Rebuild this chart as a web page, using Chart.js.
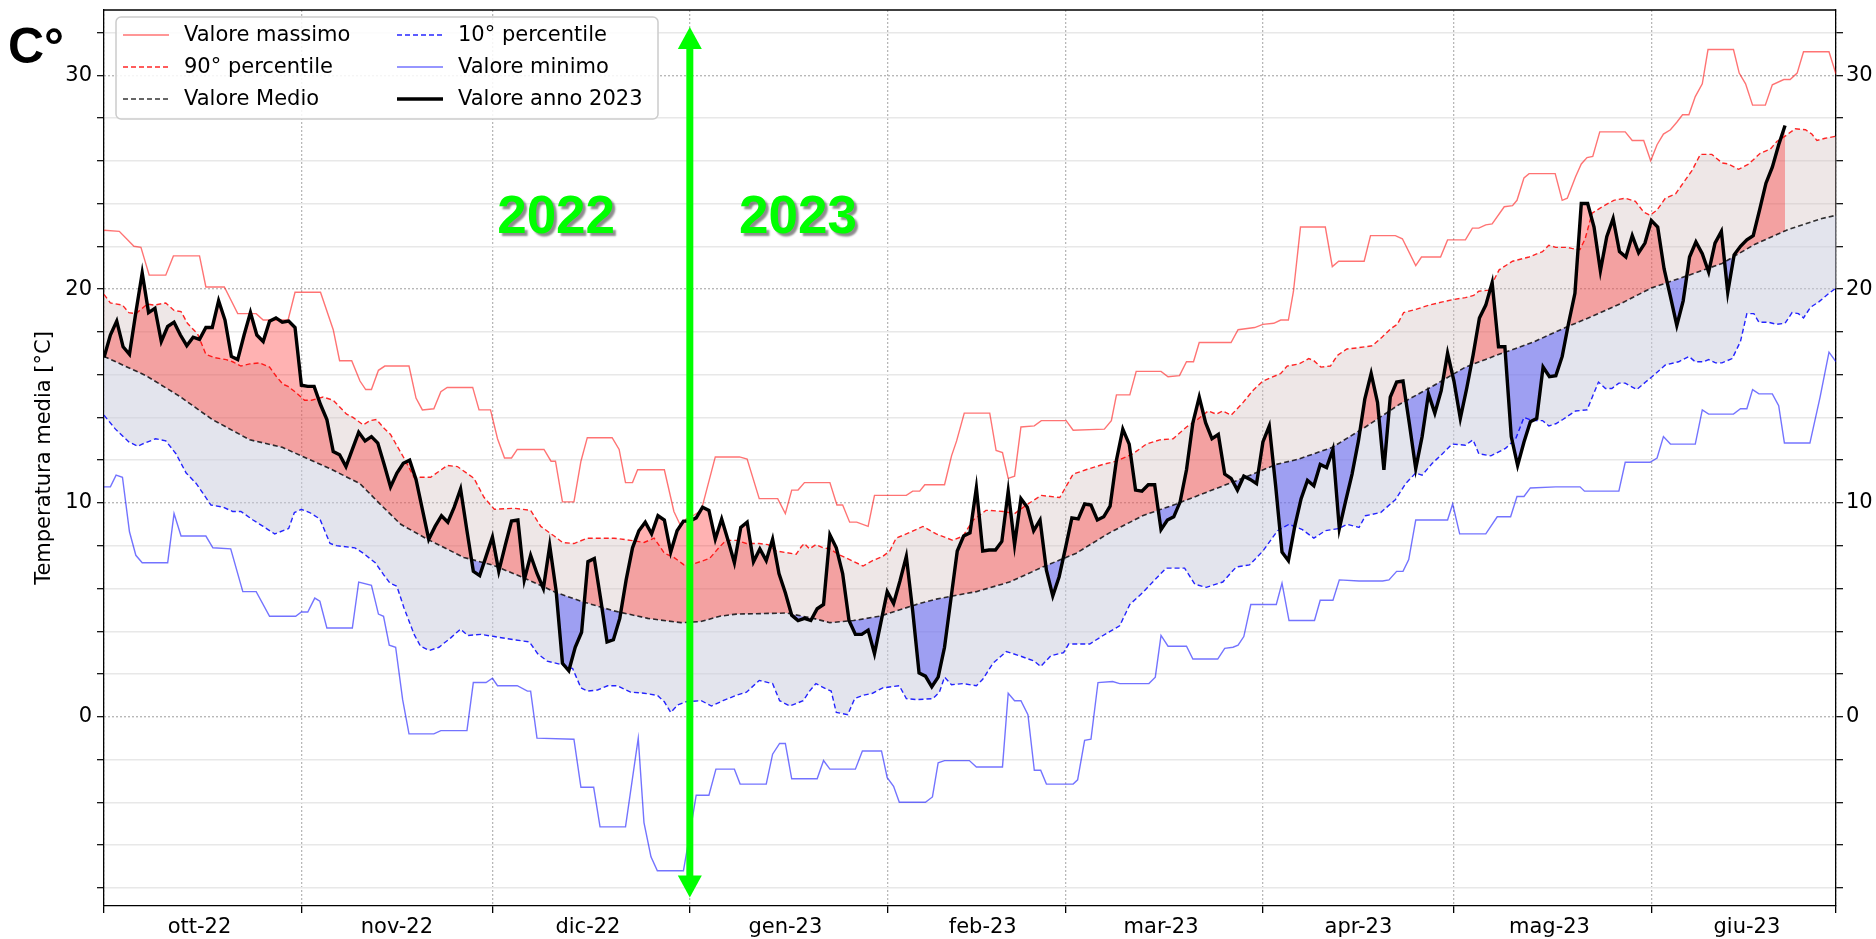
<!DOCTYPE html>
<html>
<head>
<meta charset="utf-8">
<script src="https://cdn.jsdelivr.net/npm/chart.js@4/dist/chart.umd.min.js"></script>
<style>
html,body{margin:0;padding:0;background:#fff;}
#wrap{position:relative;width:1876px;height:939px;}
</style>
</head>
<body>
<div id="wrap"><canvas id="c"></canvas></div>
<script>
// ---------------- DATA (day index 0 = 1 Oct 2022) ----------------
const monthStarts = [0, 31, 61, 92, 123, 151, 182, 212, 243, 272];
const monthLabelDays = [15, 46, 76, 107, 138, 166, 197, 227, 258];
const monthLabels = ['ott-22', 'nov-22', 'dic-22', 'gen-23', 'feb-23', 'mar-23', 'apr-23', 'mag-23', 'giu-23'];
const yTickValues = [-8, -6, -4, -2, 0, 2, 4, 6, 8, 10, 12, 14, 16, 18, 20, 22, 24, 26, 28, 30, 32];
const yLabelValues = [0, 10, 20, 30];

// daily mean temperature 2023 season (one value per day from 1 Oct 2022)
const actual2023 = [
  16.8,17.85,18.5,17.3,16.95,18.9,20.75,18.9,19.1,17.55,
  18.25,18.45,17.85,17.35,17.75,17.65,18.2,18.2,19.45,18.55,
  16.85,16.7,17.85,18.9,17.85,17.55,18.5,18.65,18.45,18.5,
  18.2,15.5,15.45,15.45,14.6,13.9,12.4,12.25,11.7,12.5,
  13.3,12.9,13.1,12.8,11.8,10.75,11.4,11.85,12.0,11.1,
  9.7,8.3,8.9,9.4,9.1,9.8,10.65,8.7,6.8,6.6,
  7.5,8.4,6.8,8.0,9.15,9.2,6.4,7.55,6.7,6.0,
  8.0,5.9,2.5,2.15,3.25,3.95,7.25,7.4,5.5,3.5,
  3.6,4.6,6.4,7.9,8.7,9.1,8.55,9.4,9.2,7.7,
  8.7,9.15,9.15,9.3,9.8,9.65,8.3,9.25,8.25,7.2,
  8.85,9.1,7.25,7.85,7.3,8.3,6.7,5.8,4.75,4.5,
  4.6,4.5,5.05,5.25,8.5,7.9,6.7,4.5,3.85,3.85,
  4.05,2.95,4.4,5.85,5.3,6.35,7.5,4.95,2.05,1.9,
  1.4,1.85,3.25,5.5,7.75,8.45,8.6,10.7,7.75,7.8,
  7.8,8.2,10.55,8.05,10.2,9.8,8.7,9.2,6.85,5.65,
  6.55,7.9,9.3,9.25,9.95,9.9,9.2,9.35,9.85,12.0,
  13.45,12.75,10.6,10.55,10.85,10.85,8.75,9.2,9.35,10.05,
  11.55,13.75,14.95,13.75,13.0,13.2,11.35,11.15,10.6,11.25,
  11.1,10.9,12.85,13.6,10.8,7.7,7.3,8.9,10.2,11.05,
  10.8,11.8,11.65,12.5,8.8,10.1,11.35,12.9,14.85,16.05,
  14.7,11.55,14.95,15.65,15.7,13.7,11.6,13.1,15.1,14.2,
  15.25,17.0,15.7,13.95,15.35,16.9,18.65,19.25,20.3,17.3,
  17.3,13.1,11.75,12.85,13.8,13.95,16.35,15.9,15.95,16.85,
  18.4,19.8,24.0,24.0,22.9,20.85,22.45,23.3,21.75,21.5,
  22.5,21.7,22.15,23.2,22.9,20.95,19.65,18.3,19.45,21.5,
  22.2,21.65,20.8,22.15,22.7,19.85,21.6,22.0,22.3,22.5,
  23.7,24.95,25.7,26.75,27.65
];

// [day, value] points
const maxPoints = [[0,22.75],[2.4,22.7],[4.7,22.0],[5.8,21.95],[7.1,20.65],[9.7,20.65],[10.9,21.55],[15,21.55],[16,20.1],[18.9,20.1],[21,18.85],[23.9,18.85],[25,18.55],[28.9,18.55],[30,19.85],[34,19.85],[36,18.1],[37,16.65],[38.9,16.65],[40.2,15.7],[41.1,15.3],[42,15.3],[43.1,16.2],[44.1,16.4],[47.9,16.4],[49,14.9],[50,14.35],[51.8,14.4],[52.9,15.2],[53.9,15.4],[57.9,15.4],[58.9,14.35],[60.7,14.35],[61.8,13.0],[62.9,12.1],[64,12.1],[64.9,12.5],[69.1,12.5],[70.2,11.95],[70.9,11.95],[72,10.05],[73.8,10.05],[74.9,11.95],[75.9,13.05],[79.8,13.05],[80.9,12.5],[81.9,10.95],[83,10.95],[83.8,11.55],[88,11.55],[89.5,9.6],[90.6,8.9],[91.4,9.25],[92.5,9.4],[93.8,9.65],[96,12.15],[99.8,12.15],[101,12.05],[102.9,10.2],[105.8,10.2],[107,9.5],[108,10.6],[109,10.6],[110,10.95],[114,10.95],[115.1,9.9],[116,9.9],[117.1,9.1],[118.2,9.1],[120,8.9],[121,10.35],[126,10.35],[127,10.55],[128.1,10.55],[128.9,10.85],[132,10.85],[133.1,12.2],[133.9,12.9],[135.1,14.2],[139.1,14.2],[140.1,12.45],[141.1,12.35],[142,11.15],[143,11.25],[144,13.55],[146.1,13.6],[147.2,13.85],[151.1,13.85],[152.2,13.4],[157.1,13.45],[158.2,13.85],[159,15.05],[161.1,15.05],[162.1,16.15],[166,16.15],[167.1,15.9],[168.9,15.95],[170,16.6],[171.1,16.6],[172,17.5],[177,17.5],[178.1,18.1],[180.7,18.2],[182,18.35],[183.7,18.4],[184.8,18.55],[186,18.55],[186.8,19.9],[187.9,22.9],[191.8,22.9],[192.9,21.05],[193.9,21.3],[197.9,21.3],[198.9,22.5],[202.8,22.5],[203.9,22.35],[206,21.1],[206.9,21.5],[209.9,21.5],[211,22.3],[213.8,22.3],[214.9,22.85],[215.9,22.85],[217,23.0],[218,23.05],[219.9,23.85],[221.2,23.9],[221.9,24.15],[223,25.2],[223.8,25.4],[227.9,25.4],[229,24.15],[229.8,24.25],[231.1,25.25],[232,25.85],[232.9,26.15],[233.8,26.2],[234.9,27.35],[238.9,27.35],[240,26.95],[241.8,26.95],[242.9,26.0],[243.9,26.75],[244.9,27.25],[246,27.45],[247,27.8],[247.9,28.15],[248.9,28.15],[249.9,29.0],[251,29.6],[251.9,31.2],[255.9,31.2],[256.8,30.1],[257.8,29.6],[258.9,28.6],[260.9,28.6],[262,29.55],[263.8,29.8],[264.8,29.8],[265.9,30.1],[266.9,31.1],[270.9,31.1],[272,30.05]];

const p90Points = [[0,19.75],[1,19.35],[2.9,19.25],[3.9,18.9],[5,18.85],[6.8,19.3],[7.9,19.25],[9.7,19.35],[11,19.0],[12.1,18.95],[13.1,18.4],[14.7,17.9],[16,16.95],[17.3,16.8],[19.2,16.7],[20.2,16.6],[21.5,16.4],[22.9,16.5],[24.4,16.55],[26,16.35],[27.1,15.9],[28.1,15.55],[28.9,15.45],[30.2,15.15],[31.5,14.8],[32.6,14.8],[34.4,14.95],[36,14.8],[38.1,14.15],[39.1,14.0],[40.7,13.65],[41.8,13.85],[42.8,13.9],[44.1,13.45],[45,13.2],[47.1,12.1],[48.7,11.2],[51.3,11.2],[53.9,11.75],[55.5,11.7],[58.1,11.15],[59.7,10.25],[61.3,9.7],[64.4,9.75],[67,9.65],[68.6,8.9],[70.7,8.45],[72,8.15],[73.8,8.1],[75.9,8.35],[80.1,8.35],[82.7,8.25],[84.8,8.15],[86.4,8.35],[88,7.65],[89.5,7.45],[91.1,7.1],[92.6,7.15],[95.1,7.4],[96.7,7.95],[97.7,8.25],[99.3,8.25],[100.9,8.1],[102.9,8.1],[104.3,8.05],[105.6,7.75],[108.7,7.6],[109.5,7.95],[110,8.1],[110.8,7.85],[111.8,8.05],[112.9,7.9],[114,7.85],[115.3,7.6],[117.1,7.35],[119.2,7.05],[120.7,7.3],[122.3,7.5],[123.4,7.75],[124.4,8.35],[126,8.55],[128.6,8.9],[130.7,8.55],[133.3,8.25],[134.9,8.45],[136.5,9.2],[138.5,9.65],[139.1,9.65],[141.2,9.6],[143,9.5],[145.1,9.95],[147.2,10.35],[150.1,10.25],[152.2,11.35],[154.2,11.55],[156.9,11.8],[159,11.95],[161.6,12.3],[163.7,12.75],[165.8,12.95],[167.9,13.0],[170,13.55],[171.5,13.85],[173.4,14.3],[174.7,14.15],[175.7,14.3],[177,14.1],[178.9,14.7],[180.4,15.25],[182,15.7],[184.8,16.05],[185.8,16.4],[187.7,16.5],[189.2,16.75],[190,16.65],[191.1,16.35],[192.6,16.4],[193.7,16.9],[195.2,17.2],[196.8,17.25],[199.2,17.35],[200.7,17.75],[202.1,18.15],[203.1,18.35],[204.1,18.9],[206,19.05],[208.1,19.25],[210.2,19.4],[211.7,19.5],[213.8,19.6],[215.1,19.7],[215.9,19.9],[217.5,19.95],[218.5,20.55],[219.1,20.9],[221.2,21.3],[223.8,21.5],[225.9,21.75],[226.9,22.05],[228,21.95],[229.8,21.95],[230.5,21.9],[231.8,21.85],[232.6,22.35],[233.7,23.55],[235.3,23.85],[237.1,24.15],[238.9,24.25],[240.5,24.1],[241.8,23.6],[242.8,23.45],[243.9,23.7],[245.2,24.25],[246.8,24.45],[248.1,25.0],[249.4,25.55],[250.7,26.3],[252.5,26.3],[254.1,25.9],[255.1,25.85],[256.7,25.6],[258.3,25.85],[260.1,26.35],[261.7,26.55],[262.7,26.9],[264,27.15],[265.6,27.5],[267.2,27.45],[268.2,27.25],[269,26.95],[270.3,27.05],[272,27.15]];

const meanPoints = [[0,16.85],[6.6,15.95],[11.8,15.0],[17,13.9],[22.9,12.95],[28,12.6],[31,12.2],[35.5,11.6],[40.2,10.9],[43.5,9.9],[46.6,9.0],[50.8,8.3],[56.5,7.45],[61,7.1],[65.5,6.55],[70.7,5.85],[74.9,5.4],[80.1,4.95],[85.4,4.6],[90.6,4.4],[93.7,4.45],[96.7,4.7],[99.3,4.8],[107.2,4.85],[111.4,4.6],[114,4.4],[117.7,4.5],[121.8,4.7],[125.5,5.05],[128.1,5.3],[130.7,5.5],[133.3,5.65],[137,5.85],[142.2,6.3],[147.4,7.0],[152.7,7.65],[157.9,8.6],[163.1,9.4],[168.4,9.95],[173.6,10.55],[178.8,11.15],[184.1,11.8],[187.6,12.05],[192.9,12.6],[198.1,13.55],[203.4,14.6],[208.6,15.45],[213.8,16.35],[219.1,16.95],[224.3,17.5],[229.5,18.2],[233.1,18.65],[238.4,19.35],[243,20.05],[248.9,20.65],[254.1,21.2],[259.3,22.1],[264.6,22.8],[269.8,23.3],[272,23.45]];

const p10Points = [[0,14.1],[1.8,13.45],[3.9,12.85],[5.3,12.65],[6,12.75],[8.1,13.0],[9.7,12.9],[11.3,12.3],[12.9,11.4],[14.5,10.9],[16.8,9.9],[18.7,9.8],[20.2,9.6],[21.5,9.6],[23.4,9.2],[25,8.9],[26.8,8.55],[29,8.8],[29.9,9.55],[31,9.7],[32.3,9.55],[33.9,9.25],[35.5,8.1],[36.5,8.0],[39.4,7.9],[40.7,7.65],[42.6,7.2],[43.9,6.65],[44.9,6.25],[46,6.1],[47.1,5.1],[48.7,3.85],[49.7,3.3],[51.1,3.1],[52.6,3.25],[54.5,3.7],[56,4.1],[57.1,3.8],[59.2,3.85],[61.3,3.75],[64.4,3.6],[66.8,3.5],[68.1,2.95],[69.6,2.6],[71.7,2.45],[73.6,2.25],[74.9,1.35],[75.9,1.2],[77.5,1.25],[79.1,1.45],[80.6,1.45],[82.7,1.15],[84.8,1.1],[86.9,1.0],[88,0.7],[89,0.2],[90.1,0.55],[91.4,0.7],[93.8,0.75],[95.4,0.5],[97.2,0.75],[99.3,1.0],[100.9,1.15],[102.9,1.7],[105,1.55],[106.1,0.75],[107.7,0.5],[109.8,0.75],[110.8,1.2],[111.8,1.55],[113.4,1.3],[114.2,1.2],[115,0.2],[116.8,0.1],[117.9,0.85],[119.2,1.0],[120.7,1.1],[122.3,1.35],[124.9,1.45],[126,0.85],[127.6,0.8],[130.2,0.85],[131.2,1.15],[132,1.85],[133.1,1.5],[134.9,1.55],[137,1.45],[138,1.75],[139.6,2.5],[141.7,3.05],[143.8,2.85],[146.1,2.6],[147.1,2.35],[148.7,2.85],[150.7,3.0],[151.5,3.4],[154.8,3.4],[156.9,3.8],[159.5,4.25],[161.1,5.25],[163.1,5.8],[164.7,6.3],[166.8,6.95],[169.7,6.95],[171.3,6.2],[173.1,6.05],[175.7,6.3],[177.8,7.0],[179.9,7.1],[182,7.75],[184.3,8.7],[186.1,9.0],[188.2,8.75],[190,8.35],[191.8,8.7],[193.9,8.8],[195.2,9.0],[197.1,8.85],[198.1,9.4],[200.5,9.55],[202.8,10.15],[204.4,10.9],[206,11.4],[207,11.3],[208.6,11.85],[210.2,12.3],[211.7,12.75],[213.8,12.7],[215,12.95],[215.9,12.3],[217.8,12.2],[220.1,12.55],[221.7,13.0],[223,14.0],[224.3,13.85],[225.9,13.85],[226.9,13.6],[228,13.7],[229.1,13.9],[231.1,14.3],[232.9,14.35],[234.7,15.65],[235.8,15.35],[236.8,15.35],[237.9,15.6],[238.9,15.6],[240.7,15.3],[242.1,15.65],[243.1,15.9],[245.2,16.45],[247.3,16.6],[248.9,16.85],[249.9,16.6],[251.2,16.6],[252,16.7],[253.1,16.55],[254.1,16.55],[255.7,16.75],[257,17.55],[258,18.85],[259.1,18.85],[259.9,18.45],[261.4,18.45],[262.7,18.35],[264,18.4],[265.1,18.9],[266.1,18.85],[266.9,18.65],[268,19.15],[269.3,19.4],[270.9,19.8],[272,20.05]];

const minPoints = [[0,10.75],[1,10.75],[1.9,11.3],[2.9,11.2],[4,8.65],[5,7.55],[6,7.2],[10,7.2],[11,9.5],[12.1,8.45],[16,8.45],[17.1,7.9],[19.9,7.85],[21.8,5.85],[23.9,5.85],[26,4.7],[30.1,4.7],[31,4.9],[32,4.9],[33.1,5.55],[33.9,5.4],[35,4.15],[39,4.15],[40,6.3],[42,6.15],[43.1,4.8],[43.9,4.7],[44.8,3.35],[45.8,3.25],[46.9,0.8],[47.9,-0.8],[51.8,-0.8],[52.9,-0.65],[57,-0.65],[58,1.6],[60,1.6],[61,1.8],[61.8,1.45],[64.9,1.45],[66.5,1.2],[67,1.2],[68,-1.0],[73.8,-1.05],[74.9,-3.3],[76.9,-3.3],[77.9,-5.15],[81.9,-5.15],[83.9,-1.0],[84.8,-4.95],[85.9,-6.55],[86.9,-7.2],[91,-7.2],[91.9,-5.65],[93,-3.67],[95,-3.67],[96.1,-2.45],[99,-2.45],[99.9,-3.15],[104,-3.15],[105,-1.75],[106.1,-1.25],[107,-1.25],[108,-2.9],[112,-2.9],[113,-2.05],[114,-2.45],[118,-2.45],[119.1,-1.6],[122.1,-1.6],[123,-2.85],[124,-3.25],[124.9,-4.0],[129,-4.0],[130.1,-3.75],[131,-2.15],[132,-2.05],[135.9,-2.05],[137,-2.35],[141.1,-2.35],[142,1.1],[143,0.75],[144,0.75],[145.1,0.1],[146.1,-2.5],[147.1,-2.5],[148,-3.15],[152.2,-3.15],[152.9,-2.95],[154,-1.1],[155,-1.05],[156.1,1.6],[158.4,1.65],[159.5,1.55],[164.1,1.55],[165.1,1.85],[166,3.8],[167.1,3.3],[170,3.3],[171,2.7],[174.9,2.7],[176,3.2],[177.3,3.25],[178.1,3.35],[179,3.75],[180.1,5.25],[184.1,5.25],[185,6.25],[186.1,4.5],[190.1,4.5],[191,5.45],[193,5.45],[194,6.4],[197.1,6.35],[200.8,6.35],[201.8,6.4],[203,6.8],[204,6.8],[204.9,7.35],[206,9.2],[211,9.2],[211.8,9.95],[212.9,8.55],[217,8.55],[218.8,9.35],[220.9,9.35],[221.9,10.3],[223,10.3],[224,10.7],[228,10.75],[231.8,10.75],[232.5,10.55],[237.9,10.55],[238.9,11.9],[242.8,11.9],[243.9,12.1],[244.9,13.1],[246,12.75],[249.9,12.75],[251,14.35],[252,14.15],[255.9,14.15],[257,14.4],[258,14.4],[258.9,15.3],[259.9,15.1],[262,15.1],[263,14.55],[263.9,12.8],[267.9,12.8],[269.5,14.95],[270.9,17.05],[272,16.6]];

// annotations
const seriesNames = ['Valore anno 2023', '90° percentile', 'Valore Medio', '10° percentile', 'Valore massimo', 'Valore minimo'];
const arrowDay = 92;          // 1 Jan 2023
const arrowTopValue = 32.25;
const arrowBottomValue = -8.45;
const yearLabels = ['2022', '2023'];
const yearLabelDays = [71, 109];
const yearLabelValue = 22.6;
const unitLabel = 'C°';
const yAxisTitle = 'Temperatura media [°C]';
const legendColumns = [[4, 1, 2], [3, 5, 0]];

// ---------------- CHART ----------------
const toXY = (pts) => pts.map(([x, y]) => ({x, y}));
Chart.defaults.font.family = "'DejaVu Sans', sans-serif";
Chart.defaults.font.size = 21;
Chart.defaults.color = '#000';

const lineBase = {pointRadius: 0, pointHoverRadius: 0, tension: 0, spanGaps: true};

const datasets = [
  Object.assign({}, lineBase, {label: seriesNames[0], data: actual2023.map((v, i) => ({x: i, y: v})),
    borderColor: '#000000', borderWidth: 3.4,
    fill: {target: 2, above: 'rgba(255,0,0,0.30)', below: 'rgba(0,0,255,0.30)'}}),
  Object.assign({}, lineBase, {label: seriesNames[1], data: toXY(p90Points),
    borderColor: 'rgba(255,0,0,0.85)', borderWidth: 1.4, borderDash: [5, 3],
    fill: {target: 2, above: 'rgba(205,185,185,0.35)', below: 'rgba(205,185,185,0.35)'}}),
  Object.assign({}, lineBase, {label: seriesNames[2], data: toXY(meanPoints),
    borderColor: 'rgba(0,0,0,0.8)', borderWidth: 1.6, borderDash: [5, 3],
    fill: {target: 3, above: 'rgba(200,202,220,0.5)', below: 'rgba(200,202,220,0.5)'}}),
  Object.assign({}, lineBase, {label: seriesNames[3], data: toXY(p10Points),
    borderColor: 'rgba(0,0,255,0.85)', borderWidth: 1.4, borderDash: [5, 3], fill: false}),
  Object.assign({}, lineBase, {label: seriesNames[4], data: toXY(maxPoints),
    borderColor: 'rgba(255,0,0,0.55)', borderWidth: 1.4, fill: false}),
  Object.assign({}, lineBase, {label: seriesNames[5], data: toXY(minPoints),
    borderColor: 'rgba(0,0,255,0.55)', borderWidth: 1.4, fill: false})
];

const isMajor = (v) => yLabelValues.includes(v);
const yTicksBuilder = (axis) => { axis.ticks = yTickValues.map(v => ({value: v})); };

const decor = {
  id: 'decor',
  afterDatasetsDraw(chart) {
    const {ctx, scales: {x, y}} = chart;
    // green double arrow at the year change
    const ax = x.getPixelForValue(arrowDay);
    const yT = y.getPixelForValue(arrowTopValue);
    const yB = y.getPixelForValue(arrowBottomValue);
    const hl = 22, hw = 12;
    ctx.save();
    ctx.fillStyle = '#00ff00';
    ctx.strokeStyle = '#00ff00';
    ctx.lineWidth = 7;
    ctx.beginPath(); ctx.moveTo(ax, yT + hl - 2); ctx.lineTo(ax, yB - hl + 2); ctx.stroke();
    ctx.beginPath(); ctx.moveTo(ax, yT); ctx.lineTo(ax - hw, yT + hl); ctx.lineTo(ax + hw, yT + hl); ctx.closePath(); ctx.fill();
    ctx.beginPath(); ctx.moveTo(ax, yB); ctx.lineTo(ax - hw, yB - hl); ctx.lineTo(ax + hw, yB - hl); ctx.closePath(); ctx.fill();
    // year labels
    ctx.font = 'bold 53px "Liberation Sans", Arial, sans-serif';
    ctx.textAlign = 'center';
    ctx.textBaseline = 'alphabetic';
    ctx.shadowColor = 'rgba(0,0,0,0.45)';
    ctx.shadowOffsetX = 3; ctx.shadowOffsetY = 3; ctx.shadowBlur = 2;
    yearLabels.forEach((t, i) => ctx.fillText(t, x.getPixelForValue(yearLabelDays[i]), y.getPixelForValue(yearLabelValue)));
    ctx.restore();
  },
  afterDraw(chart) {
    const {ctx, chartArea: a} = chart;
    ctx.save();
    // top spine
    ctx.strokeStyle = '#000'; ctx.lineWidth = 1.3;
    ctx.beginPath(); ctx.moveTo(a.left, a.top); ctx.lineTo(a.right, a.top); ctx.stroke();
    // legend box
    const bx = a.left + 12, by = a.top + 7, bw = 542, bh = 102;
    ctx.fillStyle = 'rgba(255,255,255,0.85)';
    ctx.strokeStyle = '#cccccc'; ctx.lineWidth = 1.5;
    ctx.beginPath();
    if (ctx.roundRect) ctx.roundRect(bx, by, bw, bh, 5); else ctx.rect(bx, by, bw, bh);
    ctx.fill(); ctx.stroke();
    ctx.font = '21px "DejaVu Sans", sans-serif';
    ctx.textAlign = 'left'; ctx.textBaseline = 'middle'; ctx.fillStyle = '#000';
    const colX = [bx + 7, bx + 281];
    legendColumns.forEach((col, ci) => {
      col.forEach((di, ri) => {
        const ds = chart.data.datasets[di];
        const cy = by + 18 + ri * 32;
        ctx.save();
        ctx.strokeStyle = ds.borderColor;
        ctx.lineWidth = ds.borderWidth;
        ctx.setLineDash(ds.borderDash || []);
        ctx.beginPath(); ctx.moveTo(colX[ci], cy); ctx.lineTo(colX[ci] + 46, cy); ctx.stroke();
        ctx.restore();
        ctx.fillText(ds.label, colX[ci] + 61, cy + 1);
      });
    });
    // unit label
    ctx.font = 'bold 50px "Liberation Sans", Arial, sans-serif';
    ctx.textBaseline = 'alphabetic';
    ctx.fillText(unitLabel, 8, 63);
    ctx.restore();
  }
};

new Chart(document.getElementById('c'), {
  type: 'line',
  data: {datasets},
  plugins: [decor],
  options: {
    responsive: true,
    maintainAspectRatio: false,
    devicePixelRatio: 1,
    animation: false,
    events: [],
    layout: {padding: {top: 10, left: 0, right: 0, bottom: 0}},
    plugins: {
      legend: {display: false},
      tooltip: {enabled: false},
      filler: {drawTime: 'beforeDatasetsDraw'}
    },
    scales: {
      x: {
        type: 'linear', min: 0, max: 272,
        afterBuildTicks: (axis) => {
          axis.ticks = monthStarts.concat(monthLabelDays).sort((p, q) => p - q).map(v => ({value: v}));
        },
        afterFit: (axis) => { axis.height = 33; axis.paddingLeft = 0; axis.paddingRight = 0; },
        ticks: {
          autoSkip: false, maxRotation: 0, minRotation: 0, padding: 2,
          callback: (v) => { const i = monthLabelDays.indexOf(v); return i >= 0 ? monthLabels[i] : ''; }
        },
        grid: {
          color: (c) => monthStarts.includes(c.tick && c.tick.value) ? '#b8b8b8' : 'rgba(0,0,0,0)',
          tickColor: (c) => monthStarts.includes(c.tick && c.tick.value) ? '#000' : 'rgba(0,0,0,0)',
          lineWidth: 1.3, tickLength: 7, tickWidth: 1.3
        },
        border: {color: '#000', width: 1.3, dash: [2, 2]}
      },
      y: {
        type: 'linear', position: 'left', min: -8.85, max: 33.05,
        afterBuildTicks: yTicksBuilder,
        afterFit: (axis) => { axis.width = 104; axis.paddingTop = 0; axis.paddingBottom = 0; },
        ticks: {autoSkip: false, padding: 5, callback: (v) => isMajor(v) ? String(v) : ''},
        title: {display: true, text: yAxisTitle, padding: {top: 32, bottom: 0}, font: {size: 21}},
        grid: {
          color: (c) => (c.tick && isMajor(c.tick.value)) ? 'rgba(0,0,0,0)' : '#e8e8e8',
          tickColor: '#000', lineWidth: 1.4, tickLength: 7, tickWidth: 1.2
        },
        border: {color: '#000', width: 1.3}
      },
      y2: {
        type: 'linear', position: 'right', min: -8.85, max: 33.05,
        afterBuildTicks: yTicksBuilder,
        afterFit: (axis) => { axis.width = 40; axis.paddingTop = 0; axis.paddingBottom = 0; },
        ticks: {autoSkip: false, padding: 3, callback: (v) => isMajor(v) ? String(v) : ''},
        grid: {
          color: (c) => (c.tick && isMajor(c.tick.value)) ? '#b8b8b8' : 'rgba(0,0,0,0)',
          tickColor: '#000', lineWidth: 1.4, tickLength: 7, tickWidth: 1.2
        },
        border: {color: '#000', width: 1.3, dash: [2, 2]}
      }
    }
  }
});
</script>
</body>
</html>
